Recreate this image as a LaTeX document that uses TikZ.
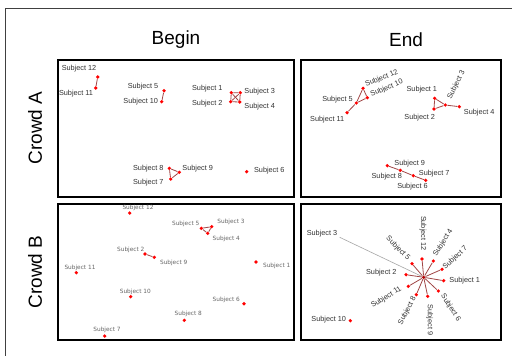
\documentclass[tikz,border=0pt]{standalone}
\usepackage{fontspec}
\setmainfont{Liberation Sans}
\newfontfamily\dvs{DejaVu Sans}
\definecolor{edgecol}{RGB}{160,70,70}
\definecolor{labcol}{RGB}{50,50,50}
\begin{document}
\begin{tikzpicture}[x=1pt,y=-1pt,
  dot/.style={circle,fill=red,inner sep=0pt,minimum size=3.6pt},
  lab/.style={inner sep=0pt,font=\fontsize{7.3}{8}\selectfont,text=labcol},
  labb/.style={inner sep=0pt,font=\dvs\fontsize{5.8}{6}\selectfont,text=black!60},
  lnk/.style={draw=edgecol,line width=0.8pt},
  panel/.style={draw=black,line width=1.1pt},
  title/.style={inner sep=0pt,font=\fontsize{19}{22}\selectfont}]
\useasboundingbox (0,0) rectangle (512,356);
\fill[white] (0,0) rectangle (512,356);
% outer frame (top and left only visible)
\draw[black!75,line width=0.8pt] (5,356) -- (5,8) -- (512,8);
% titles
\node[title] (tbeg) at (176,40) {Begin};
\node[title] (tend) at (406,40) {End};
\node[title,rotate=90] (tca) at (35,128) {Crowd A};
\node[title,rotate=90] (tcb) at (35,272) {Crowd B};
% panels
\draw[panel] (58,60) rectangle (294,197);
\draw[panel] (301,60) rectangle (501,197);
\draw[panel] (58,204) rectangle (294,340);
\draw[panel] (301,204) rectangle (501,340);

% ---------- Crowd A, Begin ----------
\node[dot] (ab12) at (97.7,77) {};
\node[dot] (ab11) at (95.7,88) {};
\node[dot] (ab5) at (164,90.7) {};
\node[dot] (ab10) at (161.7,101.7) {};
\node[dot] (ab1) at (231.3,92.7) {};
\node[dot] (ab3) at (240.3,92.7) {};
\node[dot] (ab2) at (230.7,101.7) {};
\node[dot] (ab4) at (239.7,102) {};
\node[dot] (ab8) at (169.3,168.3) {};
\node[dot] (ab9) at (179.3,172.3) {};
\node[dot] (ab7) at (170.7,179) {};
\node[dot] (ab6) at (246.7,171.7) {};
\draw[lnk] (ab12) -- (ab11);
\draw[lnk] (ab5) -- (ab10);
\draw[lnk] (ab1) -- (ab3) -- (ab4) -- (ab2) -- (ab1);
\draw[lnk] (ab1) -- (ab4);
\draw[lnk] (ab2) -- (ab3);
\draw[lnk] (ab8) -- (ab9) -- (ab7) -- (ab8);
\node[lab] (lab12) at (79,69) {Subject 12};
\node[lab] (lab11) at (76,94) {Subject 11};
\node[lab] (lab5) at (143,86.7) {Subject 5};
\node[lab] (lab10) at (140.7,101.7) {Subject 10};
\node[lab] (lab1) at (207.3,89) {Subject 1};
\node[lab] (lab3) at (259.7,91.7) {Subject 3};
\node[lab] (lab2) at (207.3,104) {Subject 2};
\node[lab] (lab4) at (259.7,106.7) {Subject 4};
\node[lab] (lab8) at (148.3,168.3) {Subject 8};
\node[lab] (lab9) at (197.7,168.3) {Subject 9};
\node[lab] (lab7) at (148.3,182.7) {Subject 7};
\node[lab] (lab6) at (269.3,170.7) {Subject 6};

% ---------- Crowd A, End ----------
\node[dot] (ae12) at (363,88.3) {};
\node[dot] (ae10) at (367.3,97.7) {};
\node[dot] (ae5) at (356.3,103) {};
\node[dot] (ae11) at (347,112.7) {};
\node[dot] (ae1) at (434.7,98.3) {};
\node[dot] (ae2) at (434,109) {};
\node[dot] (ae3) at (445.3,105) {};
\node[dot] (ae4) at (459.3,106.7) {};
\node[dot] (ae9) at (387.3,165.7) {};
\node[dot] (ae8) at (400.3,170.3) {};
\node[dot] (ae7) at (413.3,175.7) {};
\node[dot] (ae6) at (425.7,180.3) {};
\draw[lnk] (ae12) -- (ae10) -- (ae5) -- (ae12);
\draw[lnk] (ae5) -- (ae11);
\draw[lnk] (ae1) -- (ae2) -- (ae3) -- (ae1);
\draw[lnk] (ae3) -- (ae4);
\draw[lnk] (ae9) -- (ae8) -- (ae7) -- (ae6);
\node[lab,rotate=22] (lae12) at (381.7,78.3) {Subject 12};
\node[lab,rotate=23] (lae10) at (386.7,88.3) {Subject 10};
\node[lab] (lae5) at (337.5,100) {Subject 5};
\node[lab] (lae11) at (327.2,120) {Subject 11};
\node[lab] (lae1) at (421.8,90) {Subject 1};
\node[lab] (lae2) at (419.7,117.3) {Subject 2};
\node[lab,rotate=63] (lae3) at (456.3,85) {Subject 3};
\node[lab] (lae4) at (479.2,112.7) {Subject 4};
\node[lab] (lae9) at (409.7,164) {Subject 9};
\node[lab] (lae8) at (386.8,177) {Subject 8};
\node[lab] (lae7) at (434.2,174) {Subject 7};
\node[lab] (lae6) at (412.5,186.7) {Subject 6};

% ---------- Crowd B, Begin ----------
\node[dot] (bb12) at (129.7,213) {};
\node[dot] (bb5) at (201.3,228.3) {};
\node[dot] (bb3) at (211.7,226.7) {};
\node[dot] (bb4) at (207.7,233.3) {};
\node[dot] (bb2) at (145,254) {};
\node[dot] (bb9) at (154.3,257.3) {};
\node[dot] (bb1) at (256,262) {};
\node[dot] (bb11) at (76.3,272.7) {};
\node[dot] (bb10) at (130.7,296.7) {};
\node[dot] (bb6) at (244,303.7) {};
\node[dot] (bb8) at (184.3,320.3) {};
\node[dot] (bb7) at (104.7,336) {};
\draw[lnk] (bb5) -- (bb3) -- (bb4) -- (bb5);
\draw[lnk] (bb2) -- (bb9);
\node[labb] (lbb12) at (138,208) {Subject 12};
\node[labb] (lbb5) at (185.7,224) {Subject 5};
\node[labb] (lbb3) at (231,222.3) {Subject 3};
\node[labb] (lbb4) at (226.3,239.3) {Subject 4};
\node[labb] (lbb2) at (130.8,250.3) {Subject 2};
\node[labb] (lbb9) at (173.7,262.7) {Subject 9};
\node[labb] (lbb1) at (276.7,266) {Subject 1};
\node[labb] (lbb11) at (80,267.7) {Subject 11};
\node[labb] (lbb10) at (135.3,292.3) {Subject 10};
\node[labb] (lbb6) at (226.3,300) {Subject 6};
\node[labb] (lbb8) at (188.3,314) {Subject 8};
\node[labb] (lbb7) at (107,330) {Subject 7};

% ---------- Crowd B, End ----------
\coordinate (be3end) at (339.7,237.3);
\node[dot,fill=red!70!black] (be3) at (423.7,277.3) {};
\node[dot] (be12) at (422,259) {};
\node[dot] (be4) at (433.3,261) {};
\node[dot] (be7) at (442,269.3) {};
\node[dot] (be1) at (443.7,280.7) {};
\node[dot] (be6) at (438.3,291) {};
\node[dot] (be9) at (427.7,296.3) {};
\node[dot] (be8) at (416.3,294.7) {};
\node[dot] (be11) at (408.3,286.3) {};
\node[dot] (be2) at (406,274.7) {};
\node[dot] (be5) at (412,263.7) {};
\node[dot] (be10) at (350.3,320.7) {};
\draw[black!35,line width=0.6pt] (be3) -- (be3end);
\foreach \n in {12,4,7,1,6,9,8,11,2,5}
  \draw[lnk] (be3) -- (be\n);
\node[lab] (lbe3) at (322,233.3) {Subject 3};
\node[lab,rotate=-90] (lbe12) at (423,233.3) {Subject 12};
\node[lab,rotate=58] (lbe4) at (443,242.7) {Subject 4};
\node[lab,rotate=43] (lbe7) at (455.3,258) {Subject 7};
\node[lab] (lbe1) at (464.7,280.7) {Subject 1};
\node[lab,rotate=-57] (lbe6) at (450.7,307.7) {Subject 6};
\node[lab,rotate=-90] (lbe9) at (429.7,320) {Subject 9};
\node[lab,rotate=62] (lbe8) at (407.3,310.7) {Subject 8};
\node[lab,rotate=32] (lbe11) at (386.3,297.3) {Subject 11};
\node[lab] (lbe2) at (381.3,272.7) {Subject 2};
\node[lab,rotate=-45] (lbe5) at (398,248.3) {Subject 5};
\node[lab] (lbe10) at (328.7,319.3) {Subject 10};
\end{tikzpicture}
\end{document}
